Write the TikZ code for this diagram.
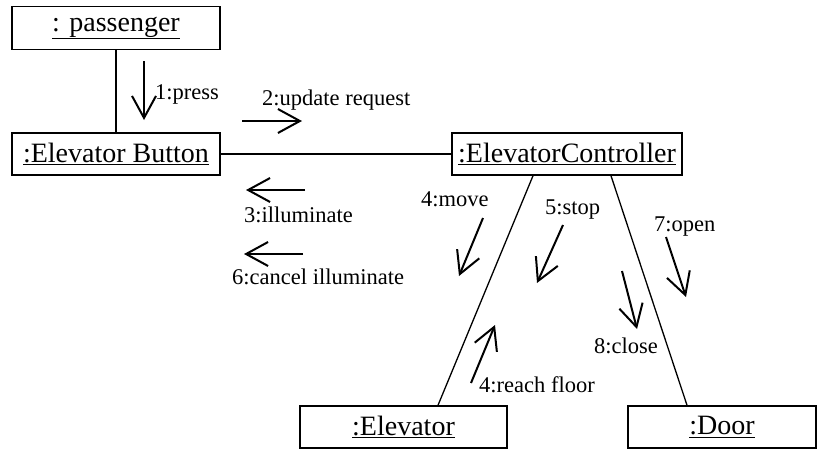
\documentclass[tikz,border=0pt]{standalone}
\usepackage{fontspec}
\setmainfont{Liberation Serif}
\usetikzlibrary{arrows.meta,calc}
\begin{document}
\begin{tikzpicture}[x=1pt,y=-1pt,
  obj/.style={draw,line width=1.5pt,inner sep=0pt,font=\fontsize{28}{30}\selectfont},
  conn/.style={line width=1.3pt},
  msg/.style={line width=2pt,-{Straight Barb[length=22pt,width=24pt,line width=2pt]}},
  lbl/.style={inner sep=0pt,anchor=west,font=\fontsize{22.5}{24}\selectfont}]
\useasboundingbox (0,0) rectangle (827,450);
\node[obj,minimum width=208pt,minimum height=43pt] (pas) at (116,28) {\underline{: passenger}};
\node[obj,minimum width=208pt,minimum height=42pt] (btn) at (116,154) {\underline{:Elevator Button}};
\node[obj,minimum width=230pt,minimum height=42pt] (ctl) at (567,154) {\underline{:ElevatorController}};
\node[obj,minimum width=207pt,minimum height=42pt] (elv) at (403.5,427) {\underline{:Elevator}};
\node[obj,minimum width=188pt,minimum height=42pt] (dor) at (722,427) {\underline{:Door}};
\draw[conn] (pas) -- (btn);
\draw[conn] (btn) -- (ctl);
\draw[conn] ([xshift=-34pt]ctl.south) -- ([xshift=34.5pt]elv.north);
\draw[conn] ([xshift=44pt]ctl.south) -- ([xshift=-35pt]dor.north);
% message arrows
\coordinate (a1s) at (144,61);  \coordinate (a1e) at (144,120);
\coordinate (a2s) at (242,121); \coordinate (a2e) at (302,121);
\coordinate (a3s) at (305,190); \coordinate (a3e) at (246,190);
\coordinate (a6s) at (303,254); \coordinate (a6e) at (244,254);
\coordinate (a4s) at (483,218); \coordinate (a4e) at (459,276);
\coordinate (a5s) at (563,225); \coordinate (a5e) at (537,283);
\coordinate (a7s) at (666,237); \coordinate (a7e) at (686,297);
\coordinate (a8s) at (622,271); \coordinate (a8e) at (637,329);
\coordinate (ars) at (471,383); \coordinate (are) at (495,325);
\draw[msg] (a1s) -- (a1e);
\draw[msg] (a2s) -- (a2e);
\draw[msg] (a3s) -- (a3e);
\draw[msg] (a6s) -- (a6e);
\draw[msg] (a4s) -- (a4e);
\draw[msg] (a5s) -- (a5e);
\draw[msg] (a7s) -- (a7e);
\draw[msg] (a8s) -- (a8e);
\draw[msg] (ars) -- (are);
% labels
\node[lbl] (l1) at (155,94) {1:press};
\node[lbl] (l2) at (262,100) {2:update request};
\node[lbl] (l3) at (244,215) {3:illuminate};
\node[lbl] (l6) at (232,277) {6:cancel illuminate};
\node[lbl] (l4) at (421,199) {4:move};
\node[lbl] (l5) at (545,210) {5:stop};
\node[lbl] (l7) at (654,227) {7:open};
\node[lbl] (l8) at (594,346) {8:close};
\node[lbl] (lr) at (479,385) {4:reach floor};
\end{tikzpicture}
\end{document}
